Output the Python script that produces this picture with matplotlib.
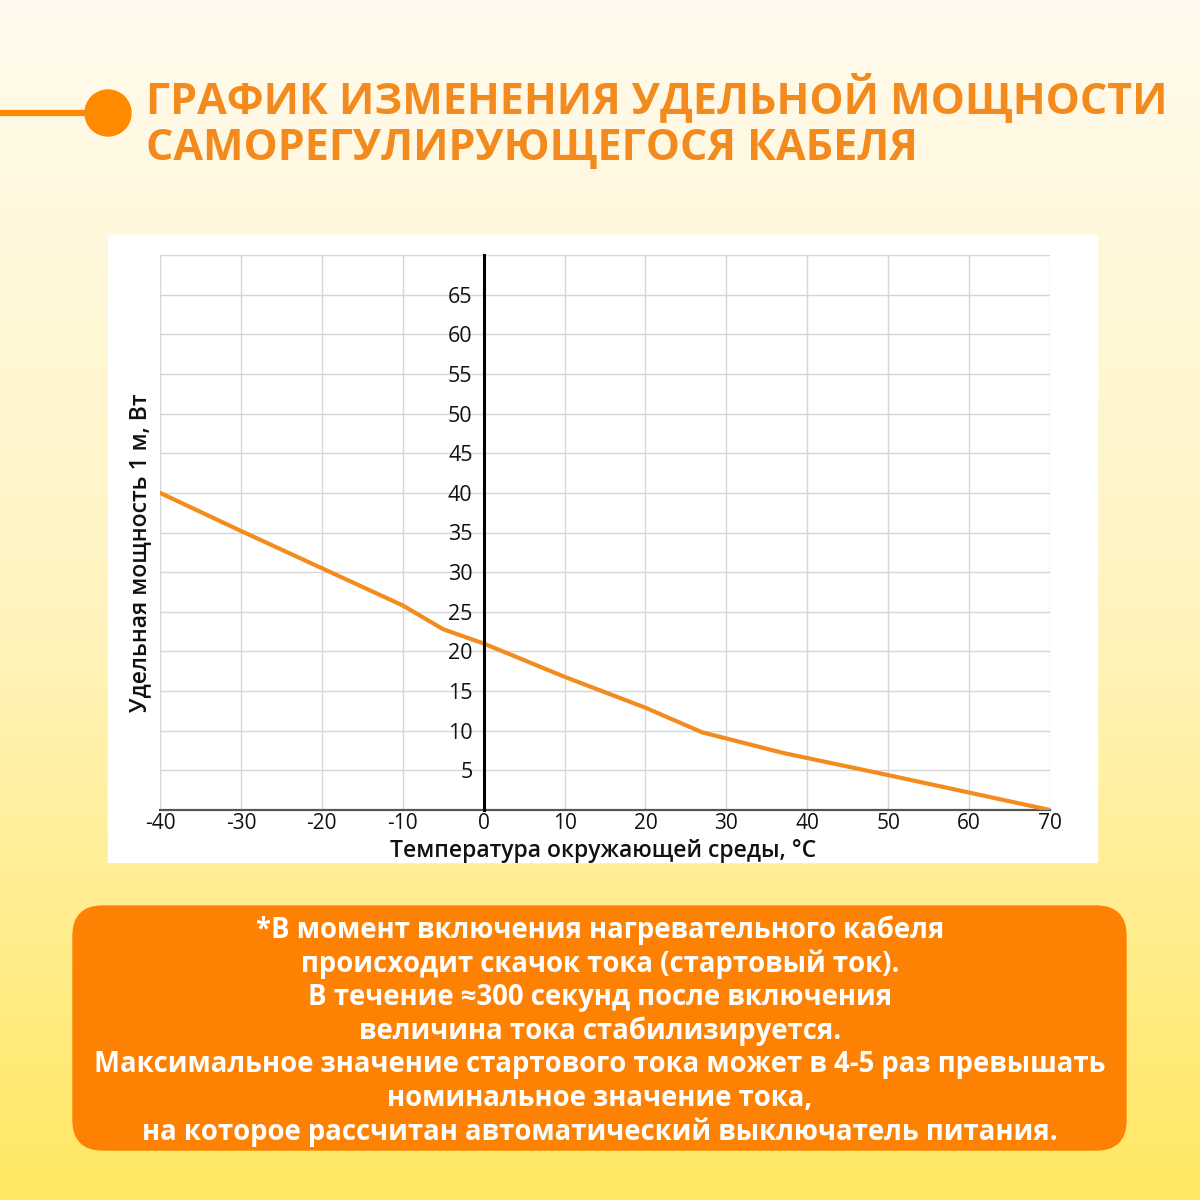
import numpy as np
import matplotlib.pyplot as plt
from matplotlib.patches import FancyBboxPatch, Rectangle, Circle
from matplotlib.lines import Line2D

plt.rcParams['font.family'] = ['Open Sans', 'DejaVu Sans']
plt.rcParams['axes.unicode_minus'] = False

# data
temp = [-40, -30, -20, -10, -5, 0, 10, 20, 27, 37, 50, 60, 70]
power = [40.0, 35.2, 30.5, 25.8, 22.8, 21.0, 16.8, 12.9, 9.8, 7.2, 4.4, 2.2, 0.0]
x_ticks = [-40, -30, -20, -10, 0, 10, 20, 30, 40, 50, 60, 70]
y_ticks = [5, 10, 15, 20, 25, 30, 35, 40, 45, 50, 55, 60, 65]

title = "ГРАФИК ИЗМЕНЕНИЯ УДЕЛЬНОЙ МОЩНОСТИ\nСАМОРЕГУЛИРУЮЩЕГОСЯ КАБЕЛЯ"
xlabel = "Температура окружающей среды, °С"
ylabel = "Удельная мощность 1 м, Вт"
note_lines = [
    "*В момент включения нагревательного кабеля",
    "происходит скачок тока (стартовый ток).",
    "В течение ≈300 секунд после включения",
    "величина тока стабилизируется.",
    "Максимальное значение стартового тока может в 4-5 раз превышать",
    "номинальное значение тока,",
    "на которое рассчитан автоматический выключатель питания.",
]

orange = '#FF8A00'
title_col = '#F28A1E'
line_col = '#F28C1E'

fig = plt.figure(figsize=(12, 12), dpi=100)

# background gradient
bg = fig.add_axes([0, 0, 1, 1], zorder=0)
top = np.array([255, 250, 238]) / 255
mid = np.array([255, 244, 192]) / 255
bot = np.array([255, 231, 98]) / 255
cols = np.zeros((300, 1, 3))
for i, v in enumerate(np.linspace(0, 1, 300)):
    if v < 0.5:
        c = top + (mid - top) * (v / 0.5)
    else:
        c = mid + (bot - mid) * ((v - 0.5) / 0.5)
    cols[i, 0] = c
bg.imshow(cols, aspect='auto', extent=[0, 1, 0, 1])
bg.set_xlim(0, 1)
bg.set_ylim(0, 1)
bg.axis('off')

# header decoration
bg.add_line(Line2D([0, 0.09], [1 - 113 / 1200] * 2, color=orange, lw=4.5,
                   transform=fig.transFigure))
bg.add_patch(Circle((108 / 1200, 1 - 113 / 1200), 23 / 1200, color=orange,
                    transform=fig.transFigure))
fig.text(146 / 1200, 1 - 122 / 1200, title, color=title_col, fontsize=31,
         fontweight='bold', ha='left', va='center', linespacing=1.1)

# white panel behind the chart
bg.add_patch(Rectangle((108 / 1200, 1 - 862 / 1200), 989 / 1200, 627 / 1200,
                       color='white', transform=fig.transFigure))

# note box
bg.add_patch(FancyBboxPatch((73 / 1200, 1 - 1150 / 1200), 1053 / 1200, 244 / 1200,
                            boxstyle='round,pad=0,rounding_size=0.025',
                            color='#FD8204', transform=fig.transFigure))
fig.text(0.5, 1 - 1031 / 1200, "\n".join(note_lines), color='white', fontsize=19.8,
         fontweight='bold', ha='center', va='center', linespacing=1.2)

# chart
ax = fig.add_axes([160 / 1200, 1 - 810 / 1200, 890 / 1200, 555 / 1200], zorder=2)
ax.set_facecolor('none')
ax.plot(temp, power, color=line_col, lw=3, zorder=3, solid_capstyle='round')
ax.set_xlim(-40, 70)
ax.set_ylim(0, 70)
ax.set_xticks(x_ticks)
ax.set_yticks(y_ticks)
ax.set_yticks(np.arange(0, 71, 5), minor=True)
ax.grid(True, which='both', color='#d6d6d6', lw=1)
ax.tick_params(which='both', length=0, labelcolor='#111111')
ax.tick_params(axis='x', labelsize=15, pad=2)
ax.tick_params(axis='y', labelsize=15.5, pad=8)
ax.spines['left'].set_position(('data', 0))
ax.spines['left'].set_color('black')
ax.spines['left'].set_linewidth(2.2)
ax.spines['left'].set_zorder(4)
ax.spines['bottom'].set_color('#555555')
ax.spines['bottom'].set_linewidth(1.6)
ax.spines['top'].set_visible(False)
ax.spines['right'].set_visible(False)

fig.text(603 / 1200, 1 - 857 / 1200, xlabel, fontsize=16.5, fontweight='semibold',
         ha='center', va='baseline', color='#111111')
fig.text(140 / 1200, 1 - 553 / 1200, ylabel, fontsize=16.5, fontweight='semibold',
         ha='center', va='center', rotation=90, color='#111111')

fig.savefig('out.png', dpi=100)
